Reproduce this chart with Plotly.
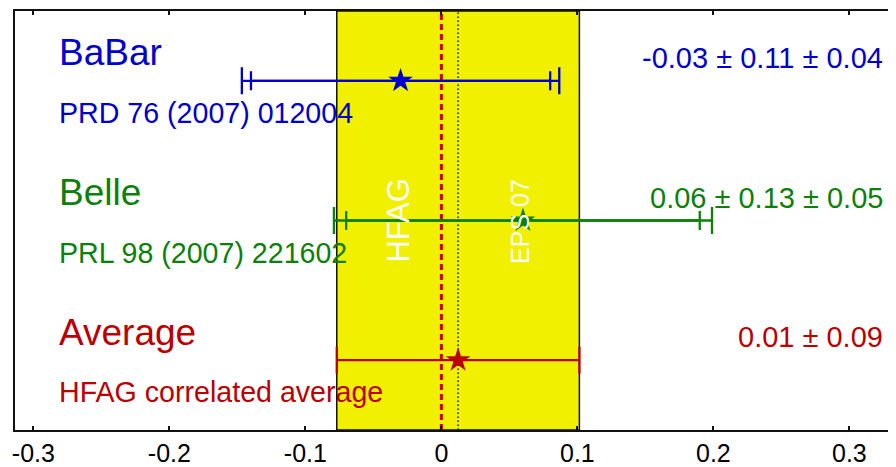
import plotly.graph_objects as go

# ---- data ----
experiments = ["BaBar", "Belle", "Average"]
references = ["PRD 76 (2007) 012004", "PRL 98 (2007) 221602", "HFAG correlated average"]
value_labels = ["-0.03 \u00b1 0.11 \u00b1 0.04", "0.06 \u00b1 0.13 \u00b1 0.05", "0.01 \u00b1 0.09"]
central = [-0.03, 0.06, 0.0123]
stat_err = [0.11, 0.13, None]          # inner (statistical) error
total_err = [0.1167, 0.139, 0.0892]    # outer (total) error
rows = [3, 2, 1]
colors = ["#0000CC", "#0B800B", "#BB0000"]
x_ticks = [-0.3, -0.2, -0.1, 0, 0.1, 0.2, 0.3]
x_tick_text = ["-0.3", "-0.2", "-0.1", "0", "0.1", "0.2", "0.3"]

avg_value = central[2]
avg_err = total_err[2]

FONT = "Liberation Sans, Arial, Helvetica, sans-serif"

fig = go.Figure()

for i in range(3):
    c = colors[i]
    # outer (total) error bar
    fig.add_trace(go.Scatter(
        x=[central[i]], y=[rows[i]], mode="markers",
        marker=dict(size=2, opacity=0, color=c),
        error_x=dict(type="data", array=[total_err[i]], visible=True,
                     color=c, thickness=2.3, width=13.5),
        showlegend=False, hoverinfo="skip"))
    if stat_err[i] is not None:
        fig.add_trace(go.Scatter(
            x=[central[i]], y=[rows[i]], mode="markers",
            marker=dict(size=2, opacity=0, color=c),
            error_x=dict(type="data", array=[stat_err[i]], visible=True,
                         color=c, thickness=2.3, width=9.5),
            showlegend=False, hoverinfo="skip"))
    # star marker
    fig.add_trace(go.Scatter(
        x=[central[i]], y=[rows[i]], mode="markers",
        marker=dict(symbol="star", size=18.5, color=c, line=dict(width=0)),
        showlegend=False))

# average band and reference lines
shapes = [
    dict(type="rect", xref="x", yref="paper", x0=avg_value - avg_err, x1=avg_value + avg_err,
         y0=0, y1=1, fillcolor="#F0F000", line=dict(color="#111111", width=1.5), layer="below"),
    dict(type="line", xref="x", yref="paper", x0=0, x1=0, y0=0, y1=1,
         line=dict(color="#CC0000", width=3, dash="6px,4px"), layer="below"),
    dict(type="line", xref="x", yref="paper", x0=avg_value, x1=avg_value, y0=0, y1=1,
         line=dict(color="#111111", width=1.5, dash="1.5px,2.5px"), layer="below"),
]

annotations = []
for i in range(3):
    c = colors[i]
    annotations.append(dict(x=-0.2826, y=rows[i], xref="x", yref="y", text=experiments[i],
                            xanchor="left", yanchor="middle", yshift=28, showarrow=False,
                            font=dict(family=FONT, size=37, color=c)))
    annotations.append(dict(x=-0.2826, y=rows[i], xref="x", yref="y", text=references[i],
                            xanchor="left", yanchor="middle", yshift=-32, showarrow=False,
                            font=dict(family=FONT, size=28.6, color=c)))
    annotations.append(dict(x=0.326, y=rows[i], xref="x", yref="y", text=value_labels[i],
                            xanchor="right", yanchor="middle", yshift=23, showarrow=False,
                            font=dict(family=FONT, size=29, color=c)))

annotations.append(dict(x=-0.0318, y=2, xref="x", yref="y", text="HFAG", textangle=-90,
                        xanchor="center", yanchor="middle", showarrow=False,
                        font=dict(family=FONT, size=31, color="white")))
annotations.append(dict(x=0.0574, y=2, xref="x", yref="y", text="EPS 07", textangle=-90,
                        xanchor="center", yanchor="middle", yshift=-1, showarrow=False,
                        font=dict(family=FONT, size=25, color="white")))

fig.update_layout(
    width=888, height=459,
    margin=dict(l=7, r=0, t=3, b=37, autoexpand=False),
    paper_bgcolor="white", plot_bgcolor="white",
    shapes=shapes, annotations=annotations,
    showlegend=False,
    xaxis=dict(range=[-0.3135, 0.3343], tickmode="array", tickvals=x_ticks, ticktext=x_tick_text,
               ticks="inside", ticklen=4, tickwidth=1.5, tickcolor="#111111",
               showline=True, linecolor="#111111", linewidth=2, mirror="ticks",
               showgrid=False, zeroline=False, automargin=False, ticklabelstandoff=0,
               tickfont=dict(family=FONT, size=25, color="black")),
    yaxis=dict(range=[0.5, 3.5], showticklabels=False, ticks="",
               showline=True, linecolor="#111111", linewidth=2, mirror=False,
               showgrid=False, zeroline=False, automargin=False),
)

fig.write_html("out.html")
